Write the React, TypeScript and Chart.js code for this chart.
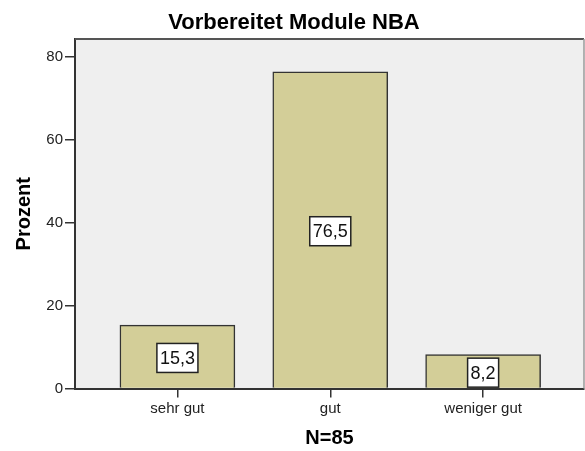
import React, { useEffect, useRef } from "react";
import { Chart, registerables } from "chart.js";

Chart.register(...registerables);

const categories = ["sehr gut", "gut", "weniger gut"];
const percentValues = [15.3, 76.5, 8.2];
const valueLabels = ["15,3", "76,5", "8,2"];
const yTicks = [0, 20, 40, 60, 80];
const chartTitle = "Vorbereitet Module NBA";
const yTitle = "Prozent";
const xTitle = "N=85";

const FONT = "'Liberation Sans', Arial, sans-serif";

const framePlugin = {
  id: "frame",
  beforeDraw(chart: any) {
    const { ctx, chartArea: a } = chart;
    ctx.save();
    ctx.fillStyle = "#efefef";
    ctx.fillRect(a.left, a.top, a.right - a.left, a.bottom - a.top);
    ctx.restore();
  },
  afterDraw(chart: any) {
    const { ctx, chartArea: a } = chart;
    ctx.save();
    ctx.strokeStyle = "#555555";
    ctx.lineWidth = 2;
    ctx.beginPath();
    ctx.moveTo(a.left, a.top);
    ctx.lineTo(a.right, a.top);
    ctx.stroke();
    ctx.strokeStyle = "#9a9a9a";
    ctx.lineWidth = 1.5;
    ctx.beginPath();
    ctx.moveTo(a.right, a.top);
    ctx.lineTo(a.right, a.bottom);
    ctx.stroke();
    // title
    ctx.fillStyle = "#000000";
    ctx.font = `bold 22px ${FONT}`;
    ctx.textAlign = "center";
    ctx.textBaseline = "alphabetic";
    ctx.fillText(chartTitle, 294, 29);
    ctx.restore();
  },
  afterDatasetsDraw(chart: any) {
    const { ctx } = chart;
    const meta = chart.getDatasetMeta(0);
    ctx.save();
    ctx.font = `18px ${FONT}`;
    meta.data.forEach((bar: any, i: number) => {
      const txt = valueLabels[i];
      const cx = bar.x;
      const cy = (bar.y + bar.base) / 2 + 1.5;
      const tw = ctx.measureText(txt).width;
      const w = tw + 6;
      const h = 29;
      ctx.fillStyle = "#ffffff";
      ctx.fillRect(cx - w / 2, cy - h / 2, w, h);
      ctx.strokeStyle = "#222222";
      ctx.lineWidth = 1.5;
      ctx.strokeRect(cx - w / 2, cy - h / 2, w, h);
      ctx.fillStyle = "#111111";
      ctx.textAlign = "center";
      ctx.textBaseline = "middle";
      ctx.fillText(txt, cx, cy + 1);
    });
    ctx.restore();
  },
};

export default function App() {
  const ref = useRef<HTMLCanvasElement | null>(null);
  useEffect(() => {
    if (!ref.current) return;
    const chart = new Chart(ref.current, {
      type: "bar",
      data: {
        datasets: [
          {
            data: percentValues.map((v, i) => ({ x: i, y: v })),
            backgroundColor: "#d3ce98",
            borderColor: "#333333",
            borderWidth: 1.5,
            barThickness: 115,
          },
        ],
      },
      options: {
        responsive: false,
        animation: false,
        devicePixelRatio: 1,
        layout: { padding: { top: 39, right: 1, left: 0, bottom: 0 } },
        plugins: {
          legend: { display: false },
          tooltip: { enabled: false },
          title: { display: false },
        },
        scales: {
          x: {
            type: "linear",
            offset: false,
            min: -0.67,
            max: 2.66,
            afterBuildTicks: (scale: any) => {
              scale.ticks = categories.map((_, i) => ({ value: i }));
            },
            afterFit: (scale: any) => {
              scale.height = 62.5;
            },
            ticks: {
              callback: (v: any) => categories[v as number] ?? "",
              color: "#222222",
              font: { family: FONT, size: 15 },
              padding: 2,
              maxRotation: 0,
              autoSkip: false,
            },
            grid: {
              offset: false,
              drawOnChartArea: false,
              drawTicks: true,
              tickLength: 9,
              color: "#333333",
              lineWidth: 1.5,
            },
            border: { display: true, color: "#333333", width: 2 },
            title: {
              display: true,
              text: xTitle,
              color: "#000000",
              font: { family: FONT, size: 20, weight: "bold" },
              padding: { top: 0, bottom: 1 },
            },
          },
          y: {
            min: 0,
            max: 84.4,
            afterBuildTicks: (scale: any) => {
              scale.ticks = yTicks.map((v) => ({ value: v }));
            },
            afterFit: (scale: any) => {
              scale.width = 75;
            },
            ticks: {
              color: "#222222",
              font: { family: FONT, size: 15 },
              padding: 2,
            },
            grid: {
              drawOnChartArea: false,
              drawTicks: true,
              tickLength: 10,
              color: "#333333",
              lineWidth: 1.5,
            },
            border: { display: true, color: "#333333", width: 2 },
            title: {
              display: true,
              text: yTitle,
              color: "#000000",
              font: { family: FONT, size: 20, weight: "bold" },
              padding: { top: 12, bottom: 0 },
            },
          },
        },
      },
      plugins: [framePlugin],
    } as any);
    return () => chart.destroy();
  }, []);
  return (
    <div style={{ position: "absolute", left: 0, top: 0, width: 585, height: 451, background: "#ffffff" }}>
      <canvas ref={ref} width={585} height={451} style={{ display: "block" }} />
    </div>
  );
}
